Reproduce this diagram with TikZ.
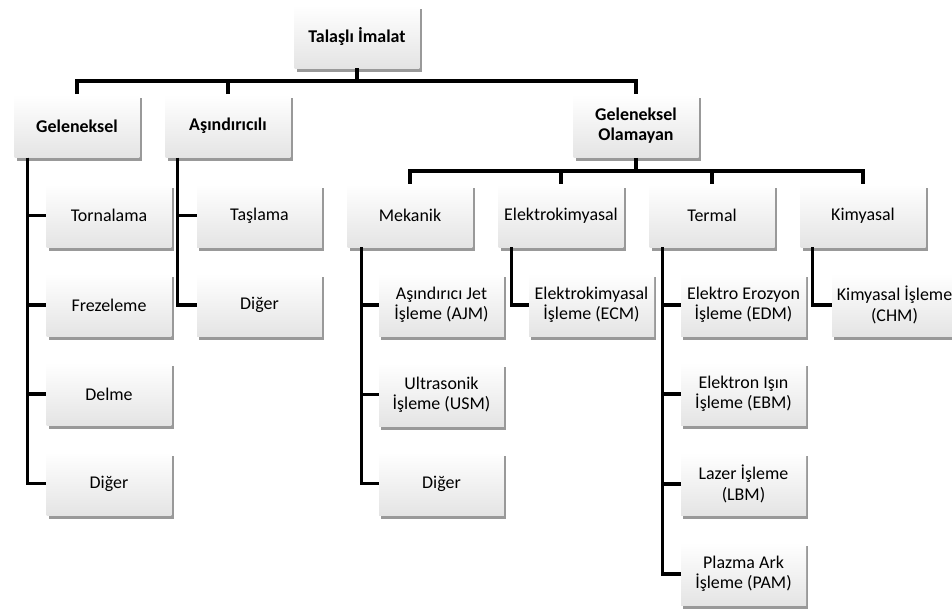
\documentclass[tikz,border=0pt]{standalone}
\usepackage{fontspec}
\setmainfont{Carlito}
\usetikzlibrary{shadows}
\definecolor{BoxShade}{HTML}{E4E4E4}
\definecolor{LinkBlack}{HTML}{000000}

\begin{document}
\begin{tikzpicture}[x=0.02cm,y=-0.02cm,
  font=\fontsize{10.2pt}{11.5pt}\selectfont,
  box/.style={minimum width=2.5cm,minimum height=1.26cm,inner sep=0pt,align=center,
    top color=white,middle color=white,bottom color=BoxShade,
    drop shadow={shadow xshift=1.2pt,shadow yshift=-2.2pt,opacity=0.4,fill=black}},
  head/.style={box,font=\fontsize{10.2pt}{11.5pt}\selectfont\bfseries},
  link/.style={LinkBlack,line width=1.8pt}]
\useasboundingbox (0,0) rectangle (952,613);
% top two levels
\node[head] (root) at (357,36.5) {Talaşlı İmalat};
\node[head] (gel) at (77,126) {Geleneksel};
\node[head] (asin) at (228,126) {Aşındırıcılı};
\node[head] (olm) at (636,126) {Geleneksel\\Olamayan};
\node[box] (mek) at (410,215.5) {Mekanik};
\node[box] (ekim) at (561,215.5) {Elektrokimyasal};
\node[box] (term) at (712,215.5) {Termal};
\node[box] (kim) at (863,215.5) {Kimyasal};
% leaves
\node[box] (torn) at (109,215.5) {Tornalama};
\node[box] (frez) at (109,305) {Frezeleme};
\node[box] (delm) at (109,394) {Delme};
\node[box] (dig1) at (109,483.5) {Diğer};
\node[box] (tasl) at (259.5,215.5) {Taşlama};
\node[box] (dig2) at (259.5,305) {Diğer};
\node[box] (ajm) at (441.5,305) {Aşındırıcı Jet\\İşleme (AJM)};
\node[box] (usm) at (441.5,394.5) {Ultrasonik\\İşleme (USM)};
\node[box] (dig3) at (441.5,483.5) {Diğer};
\node[box] (ecm) at (591.5,305) {Elektrokimyasal\\İşleme (ECM)};
\node[box] (edm) at (743.5,305) {Elektro Erozyon\\İşleme (EDM)};
\node[box] (ebm) at (743.5,394) {Elektron Işın\\İşleme (EBM)};
\node[box] (lbm) at (743.5,484) {Lazer İşleme\\(LBM)};
\node[box] (pam) at (743.5,574) {Plazma Ark\\İşleme (PAM)};
\node[box] (chm) at (894.5,305) {Kimyasal İşleme\\(CHM)};
% buses
\coordinate (bus0) at (357,81);
\coordinate (bus1) at (636,171);
\draw[link] (root) -- (bus0);
\draw[link] (gel) |- (bus0) -| (olm);
\draw[link] (asin) -- (asin |- bus0);
\draw[link] (olm) -- (bus1);
\draw[link] (mek) |- (bus1) -| (kim);
\draw[link] (ekim) -- (ekim |- bus1);
\draw[link] (term) -- (term |- bus1);
% side spines
\foreach \c in {torn,frez,delm,dig1} \draw[link] (gel.south west) ++(13,0) |- (\c);
\foreach \c in {tasl,dig2} \draw[link] (asin.south west) ++(12,0) |- (\c);
\foreach \c in {ajm,usm,dig3} \draw[link] (mek.south west) ++(14,0) |- (\c);
\draw[link] (ekim.south west) ++(13,0) |- (ecm);
\foreach \c in {edm,ebm,lbm,pam} \draw[link] (term.south west) ++(13,0) |- (\c);
\draw[link] (kim.south west) ++(12,0) |- (chm);
\end{tikzpicture}
\end{document}
